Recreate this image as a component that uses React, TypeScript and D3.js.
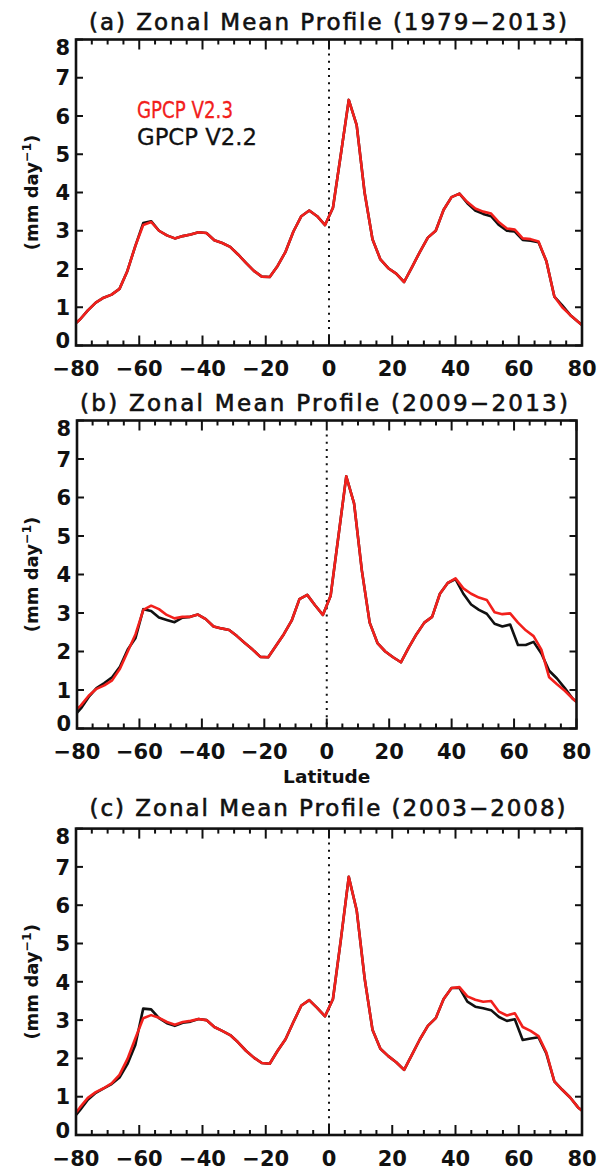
import React from "react";
import * as d3 from "d3";

// Latitude grid (GPCP 2.5° band centres)
const LATS = [
  -81.25, -78.75, -76.25, -73.75, -71.25, -68.75, -66.25, -63.75, -61.25, -58.75,
  -56.25, -53.75, -51.25, -48.75, -46.25, -43.75, -41.25, -38.75, -36.25, -33.75,
  -31.25, -28.75, -26.25, -23.75, -21.25, -18.75, -16.25, -13.75, -11.25, -8.75,
  -6.25, -3.75, -1.25, 1.25, 3.75, 6.25, 8.75, 11.25, 13.75, 16.25,
  18.75, 21.25, 23.75, 26.25, 28.75, 31.25, 33.75, 36.25, 38.75, 41.25,
  43.75, 46.25, 48.75, 51.25, 53.75, 56.25, 58.75, 61.25, 63.75, 66.25,
  68.75, 71.25, 73.75, 76.25, 78.75, 81.25,
];

// (a) 1979-2013
const A_V23 = [
  0.5, 0.68, 0.92, 1.12, 1.25, 1.33, 1.48, 1.95, 2.6, 3.15,
  3.23, 3.0, 2.88, 2.8, 2.86, 2.9, 2.96, 2.94, 2.75, 2.68,
  2.58, 2.38, 2.16, 1.95, 1.8, 1.79, 2.08, 2.45, 2.98, 3.38,
  3.53, 3.38, 3.15, 3.6, 5.0, 6.42, 5.76, 4.0, 2.78, 2.25,
  2.02, 1.88, 1.66, 2.05, 2.45, 2.82, 3.0, 3.55, 3.88, 3.97,
  3.75, 3.58, 3.5, 3.45, 3.22, 3.06, 3.03, 2.8, 2.78, 2.72,
  2.2, 1.28, 1.0, 0.8, 0.62, 0.45,
];
const A_V22 = [
  0.5, 0.68, 0.92, 1.12, 1.25, 1.33, 1.48, 1.95, 2.6, 3.2,
  3.25, 3.0, 2.88, 2.8, 2.86, 2.9, 2.96, 2.94, 2.75, 2.68,
  2.58, 2.38, 2.16, 1.95, 1.8, 1.79, 2.08, 2.45, 2.98, 3.38,
  3.53, 3.38, 3.15, 3.6, 5.0, 6.42, 5.76, 4.0, 2.78, 2.25,
  2.02, 1.88, 1.66, 2.05, 2.45, 2.82, 3.0, 3.55, 3.88, 3.97,
  3.72, 3.53, 3.44, 3.38, 3.15, 3.0, 2.98, 2.76, 2.74, 2.7,
  2.2, 1.28, 1.05, 0.8, 0.62, 0.45,
];

// (b) 2009-2013
const B_V23 = [
  0.42, 0.6, 0.85, 1.03, 1.12, 1.25, 1.55, 2.0, 2.45, 3.08,
  3.19, 3.1, 2.95, 2.86, 2.9, 2.9, 2.96, 2.84, 2.65, 2.6,
  2.56, 2.4, 2.22, 2.05, 1.86, 1.85, 2.15, 2.45, 2.8, 3.36,
  3.47, 3.2, 2.95, 3.45, 5.0, 6.55, 5.85, 4.1, 2.75, 2.22,
  2.0, 1.85, 1.72, 2.1, 2.45, 2.75, 2.9, 3.5, 3.78, 3.9,
  3.64, 3.5, 3.4, 3.34, 3.02, 2.97, 2.99, 2.75, 2.55, 2.4,
  2.05, 1.33, 1.15, 0.98, 0.78, 0.6,
];
const B_V22 = [
  0.3, 0.52, 0.82, 1.05, 1.18, 1.33, 1.6, 2.05, 2.35, 3.1,
  3.05, 2.88, 2.82, 2.76, 2.88, 2.9, 2.96, 2.84, 2.65, 2.6,
  2.56, 2.4, 2.22, 2.05, 1.86, 1.85, 2.15, 2.45, 2.8, 3.36,
  3.47, 3.2, 2.95, 3.45, 5.0, 6.55, 5.85, 4.1, 2.75, 2.22,
  2.0, 1.85, 1.72, 2.1, 2.45, 2.75, 2.9, 3.5, 3.78, 3.88,
  3.5, 3.22, 3.08, 2.98, 2.72, 2.65, 2.7, 2.17, 2.17, 2.25,
  1.95, 1.5, 1.3, 1.05, 0.78, 0.6,
];

// (c) 2003-2008
const C_V23 = [
  0.45, 0.72, 0.97, 1.12, 1.22, 1.35, 1.57, 1.98, 2.52, 3.05,
  3.13, 3.06, 2.95, 2.88, 2.95, 2.98, 3.03, 3.0, 2.82, 2.72,
  2.61, 2.42, 2.2, 2.02, 1.88, 1.86, 2.2, 2.5, 2.95, 3.38,
  3.52, 3.32, 3.1, 3.55, 5.1, 6.74, 5.87, 4.1, 2.75, 2.25,
  2.06, 1.9, 1.7, 2.1, 2.5, 2.85, 3.05, 3.55, 3.84, 3.86,
  3.62, 3.53, 3.48, 3.5, 3.22, 3.12, 3.18, 2.82, 2.72, 2.58,
  2.15, 1.4, 1.18, 0.98, 0.72, 0.55,
];
const C_V22 = [
  0.4, 0.65, 0.92, 1.1, 1.22, 1.33, 1.5, 1.85, 2.35, 3.3,
  3.28, 3.05, 2.92, 2.85, 2.93, 2.96, 3.03, 3.0, 2.82, 2.72,
  2.61, 2.42, 2.2, 2.02, 1.88, 1.86, 2.2, 2.5, 2.95, 3.38,
  3.52, 3.32, 3.1, 3.55, 5.1, 6.74, 5.87, 4.1, 2.75, 2.25,
  2.06, 1.9, 1.7, 2.1, 2.5, 2.85, 3.05, 3.55, 3.84, 3.84,
  3.48, 3.35, 3.31, 3.26, 3.08, 2.98, 3.02, 2.48, 2.52, 2.55,
  2.12, 1.4, 1.18, 0.98, 0.72, 0.55,
];

const X_TICKS = [-80, -60, -40, -20, 0, 20, 40, 60, 80];
const X_MINOR = [
  -75, -70, -65, -55, -50, -45, -35, -30, -25, -15, -10, -5,
  5, 10, 15, 25, 30, 35, 45, 50, 55, 65, 70, 75,
];
const Y_TICKS = [0, 1, 2, 3, 4, 5, 6, 7, 8];
const TITLES = [
  "(a) Zonal Mean Profile (1979\u22122013)",
  "(b) Zonal Mean Profile (2009\u22122013)",
  "(c) Zonal Mean Profile (2003\u22122008)",
];
const SERIES_NAMES = ["GPCP V2.3", "GPCP V2.2"];
const X_TITLE = "Latitude";

const RED = "#f2201c";
const FONT = "'DejaVu Sans', Arial, sans-serif";

type PanelCfg = {
  id: string;
  title: string;
  v23: number[];
  v22: number[];
  l: number;
  r: number;
  t: number;
  b: number;
  titleY: number;
  titleW: number;
  titleX: number;
  legend: boolean;
  xTitle: boolean;
};

const PANELS: PanelCfg[] = [
  { id: "a", title: TITLES[0], v23: A_V23, v22: A_V22, l: 76, r: 582, t: 39.5, b: 345.5, titleY: 30, titleW: 478, titleX: 328, legend: true, xTitle: false },
  { id: "b", title: TITLES[1], v23: B_V23, v22: B_V22, l: 77, r: 576.5, t: 420.5, b: 728.5, titleY: 411, titleW: 488, titleX: 324, legend: false, xTitle: true },
  { id: "c", title: TITLES[2], v23: C_V23, v22: C_V22, l: 76, r: 582, t: 828.6, b: 1135, titleY: 816, titleW: 476, titleX: 327.5, legend: false, xTitle: false },
];

function fmt(v: number) {
  return v < 0 ? "\u2212" + Math.abs(v) : String(v);
}

function Panel({ p }: { p: PanelCfg }) {
  const x = d3.scaleLinear().domain([-80, 80]).range([p.l, p.r]);
  const y = d3.scaleLinear().domain([0, 8]).range([p.b, p.t]);
  const line = d3
    .line<number>()
    .x((_, i) => x(LATS[i]))
    .y((d) => y(d));
  const clipId = "clip-" + p.id;
  const yMid = (p.t + p.b) / 2;
  const majorLen = 10;
  const minorLen = 5;
  const yTickLen = 7;
  return (
    <g>
      <defs>
        <clipPath id={clipId}>
          <rect x={p.l} y={p.t} width={p.r - p.l} height={p.b - p.t} />
        </clipPath>
      </defs>
      {/* title */}
      <text
        x={p.titleX}
        y={p.titleY}
        textAnchor="middle"
        fontFamily={FONT}
        fontSize={23}
        textLength={p.titleW}
        lengthAdjust="spacing"
        fill="#111"
        stroke="#111"
        strokeWidth={0.6}
      >
        {p.title}
      </text>
      {/* zero-latitude dotted line */}
      <line
        x1={x(0)}
        x2={x(0)}
        y1={y(8) + 14}
        y2={y(0)}
        stroke="#111"
        strokeWidth={2}
        strokeDasharray="2 5.2"
      />
      {/* series */}
      <g clipPath={`url(#${clipId})`}>
        <path d={line(p.v22) || ""} fill="none" stroke="#111" strokeWidth={2.6} strokeLinejoin="round" />
        <path d={line(p.v23) || ""} fill="none" stroke={RED} strokeWidth={2.6} strokeLinejoin="round" />
      </g>
      {/* ticks */}
      {X_TICKS.map((t) => (
        <g key={"xm" + t}>
          <line x1={x(t)} x2={x(t)} y1={p.b} y2={p.b - majorLen} stroke="#111" strokeWidth={2} />
          <line x1={x(t)} x2={x(t)} y1={p.t} y2={p.t + majorLen} stroke="#111" strokeWidth={2} />
        </g>
      ))}
      {X_MINOR.map((t) => (
        <g key={"xn" + t}>
          <line x1={x(t)} x2={x(t)} y1={p.b} y2={p.b - minorLen} stroke="#111" strokeWidth={2} />
          <line x1={x(t)} x2={x(t)} y1={p.t} y2={p.t + minorLen} stroke="#111" strokeWidth={2} />
        </g>
      ))}
      {Y_TICKS.map((t) => (
        <g key={"y" + t}>
          <line x1={p.l} x2={p.l + yTickLen} y1={y(t)} y2={y(t)} stroke="#111" strokeWidth={2} />
          <line x1={p.r} x2={p.r - yTickLen} y1={y(t)} y2={y(t)} stroke="#111" strokeWidth={2} />
        </g>
      ))}
      {/* frame */}
      <rect x={p.l} y={p.t} width={p.r - p.l} height={p.b - p.t} fill="none" stroke="#111" strokeWidth={2.6} />
      {/* tick labels */}
      {X_TICKS.map((t) => (
        <text
          key={"xl" + t}
          x={x(t)}
          y={p.b + 30.5}
          textAnchor="middle"
          fontFamily={FONT}
          fontWeight="bold"
          fontSize={21}
          fill="#111"
        >
          {fmt(t)}
        </text>
      ))}
      {Y_TICKS.map((t) => (
        <text
          key={"yl" + t}
          x={p.l - 6}
          y={y(t) + 7.7 + (t === 8 ? 8 : t === 0 ? -5 : 0)}
          textAnchor="end"
          fontFamily={FONT}
          fontWeight="bold"
          fontSize={21}
          fill="#111"
        >
          {t}
        </text>
      ))}
      {/* y-axis title */}
      <text
        transform={`translate(38,${yMid}) rotate(-90)`}
        textAnchor="middle"
        fontFamily={FONT}
        fontWeight="bold"
        fontSize={18}
        fill="#111"
      >
        (mm day
        <tspan fontSize={12.5} dy={-7}>
          {"\u22121"}
        </tspan>
        <tspan dy={7}>)</tspan>
      </text>
      {p.xTitle && (
        <text
          x={(p.l + p.r) / 2}
          y={p.b + 54}
          textAnchor="middle"
          fontFamily={FONT}
          fontWeight="bold"
          fontSize={18.5}
          fill="#111"
        >
          {X_TITLE}
        </text>
      )}
      {p.legend && (
        <g fontFamily={FONT} fontSize={22.5} stroke="none">
          <text x={137} y={118} fill={RED} stroke={RED} strokeWidth={0.3} textLength={96} lengthAdjust="spacingAndGlyphs">
            {SERIES_NAMES[0]}
          </text>
          <text x={137} y={145} fill="#111" stroke="#111" strokeWidth={0.3} textLength={120} lengthAdjust="spacingAndGlyphs">
            {SERIES_NAMES[1]}
          </text>
        </g>
      )}
    </g>
  );
}

export default function App() {
  return (
    <svg
      width={605}
      height={1169}
      viewBox="0 0 605 1169"
      style={{ position: "absolute", left: 0, top: 0, background: "#fff" }}
    >
      <rect x={0} y={0} width={605} height={1169} fill="#fff" />
      {PANELS.map((p) => (
        <Panel key={p.id} p={p} />
      ))}
    </svg>
  );
}
